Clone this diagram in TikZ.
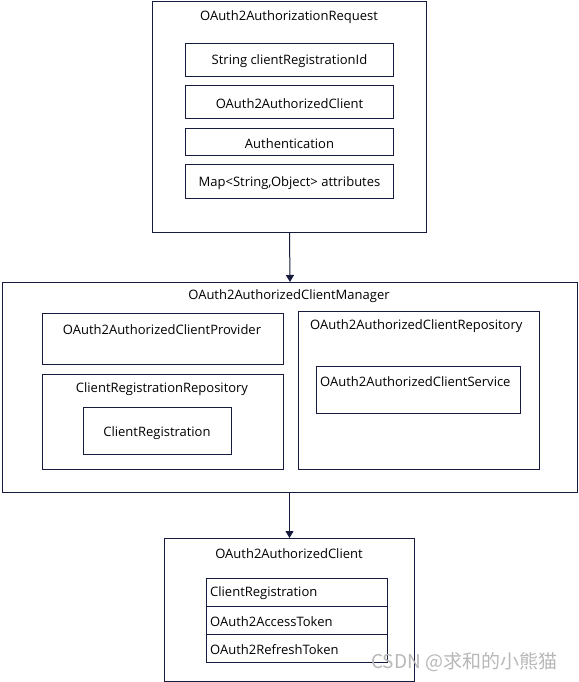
\documentclass[tikz,border=0pt]{standalone}
\usepackage{fontspec}
\setmainfont{Open Sans}
\newfontfamily\cjk{Noto Sans CJK SC}
\usetikzlibrary{arrows.meta}
\definecolor{ln}{HTML}{161A3D}
\begin{document}
\begin{tikzpicture}[x=1pt,y=-1pt,
  box/.style={draw=ln, line width=1pt, inner sep=0pt, anchor=north west},
  txt/.style={font=\fontsize{13}{15}\selectfont, inner sep=0pt, text=black, yshift=-1.5pt},
  lt/.style={txt, anchor=west},
  arr/.style={draw=ln, line width=1pt, -{Triangle[width=8pt,length=7pt]}}]
\useasboundingbox (0,0) rectangle (578,682);
\fill[white] (0,0) rectangle (578,682);
% top box
\node[box, minimum width=274pt, minimum height=231pt] (req) at (152,1) {};
\node[txt] (reqt) at (289,16) {OAuth2AuthorizationRequest};
\node[box, minimum width=208pt, minimum height=33pt] (t1) at (185,43) {};
\node[txt] at (t1.center) {String clientRegistrationId};
\node[box, minimum width=208pt, minimum height=33pt] (t2) at (185,85) {};
\node[txt] at (t2.center) {OAuth2AuthorizedClient};
\node[box, minimum width=208pt, minimum height=27pt] (t3) at (185,128) {};
\node[txt] at (t3.center) {Authentication};
\node[box, minimum width=208pt, minimum height=34pt] (t4) at (185,164) {};
\node[txt] at (t4.center) {Map<String,Object> attributes};
% middle box
\node[box, minimum width=575pt, minimum height=210pt] (mgr) at (2,282) {};
\node[txt] (mgrt) at (289,295) {OAuth2AuthorizedClientManager};
\node[box, minimum width=241pt, minimum height=51pt] (prov) at (42,313) {};
\node[txt] (provt) at (162,328) {OAuth2AuthorizedClientProvider};
\node[box, minimum width=241pt, minimum height=95pt] (crr) at (42,374) {};
\node[txt] (crrt) at (162,388) {ClientRegistrationRepository};
\node[box, minimum width=148pt, minimum height=47pt] (cr) at (83,407) {};
\node[txt] at (157,432) {ClientRegistration};
\node[box, minimum width=241pt, minimum height=158pt] (repo) at (298,311) {};
\node[lt] (repot) at (310,325) {OAuth2AuthorizedClientRepository};
\node[box, minimum width=204pt, minimum height=47pt] (svc) at (316,366) {};
\node[lt] (svct) at (320,380) {OAuth2AuthorizedClientService};
% bottom box
\node[box, minimum width=250pt, minimum height=143pt] (cli) at (164,538) {};
\node[txt] (clit) at (289,552) {OAuth2AuthorizedClient};
\node[box, minimum width=181pt, minimum height=28pt] (r1) at (206,578) {};
\node[box, minimum width=181pt, minimum height=28pt] (r2) at (206,606) {};
\node[box, minimum width=181pt, minimum height=28pt] (r3) at (206,634) {};
\node[lt] at (210,592) {ClientRegistration};
\node[lt] at (210,620) {OAuth2AccessToken};
\node[lt] at (210,648) {OAuth2RefreshToken};
% arrows
\draw[arr] (req.south) -- (mgr.north);
\draw[arr] (mgr.south -| req.south) -- (cli.north);
% watermark
\node[anchor=west, inner sep=0pt, text=black!28, font=\cjk\fontsize{19}{21}\selectfont] (wm) at (371,662) {CSDN @求和的小熊猫};
\end{tikzpicture}
\end{document}
